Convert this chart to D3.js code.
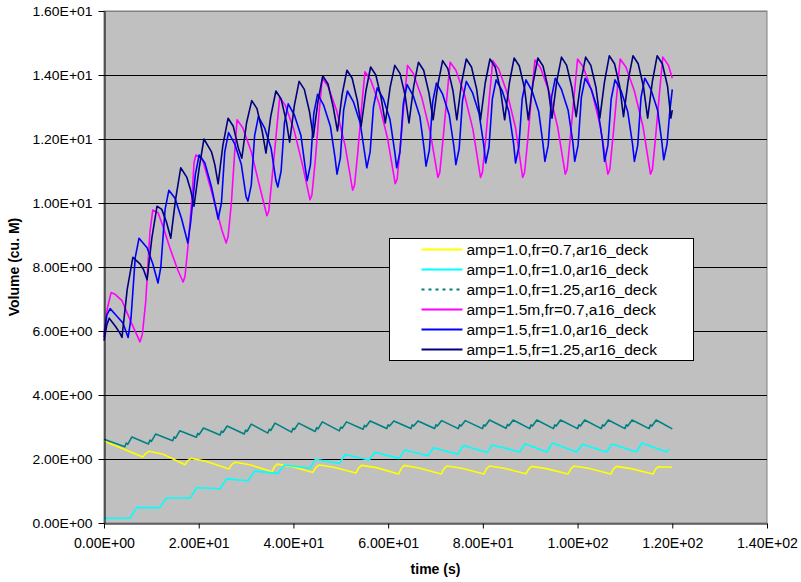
<!DOCTYPE html>
<html>
<head>
<meta charset="utf-8">
<script src="https://cdn.jsdelivr.net/npm/d3@7/dist/d3.min.js"></script>
<style>
  body { margin: 0; background: #fff; }
  text { font-family: "Liberation Sans", Arial, sans-serif; }
</style>
</head>
<body>
<div id="chart"></div>
<script>
// chart size
var width = 801;
var height = 582;

// axis ticks
var xTicks = [0, 20, 40, 60, 80, 100, 120, 140];
var yTicks = [0, 2, 4, 6, 8, 10, 12, 14, 16];

// legend entries
var seriesNames = [
  "amp=1.0,fr=0.7,ar16_deck",
  "amp=1.0,fr=1.0,ar16_deck",
  "amp=1.0,fr=1.25,ar16_deck",
  "amp=1.5m,fr=0.7,a16_deck",
  "amp=1.5,fr=1.0,ar16_deck",
  "amp=1.5,fr=1.25,ar16_deck"
];
var seriesColors = ["#ffff00", "#00ffff", "#008080", "#ff00ff", "#0000ff", "#000080"];

// [time, volume]
var yellowPts = [
  [0, 2.56], [8.2, 2.06], [8.8, 2.17], [9.5, 2.24], [12.5, 2.15], [17.1, 1.82],
  [17.7, 1.95], [18.4, 2.02], [21.5, 1.93], [26.4, 1.69],
  [27.0, 1.83], [27.7, 1.9], [30.8, 1.82], [35.5, 1.6],
  [36.0, 1.76], [36.6, 1.84], [39.6, 1.77], [44.1, 1.58],
  [44.7, 1.73], [45.4, 1.81], [48.5, 1.74], [53.2, 1.56],
  [53.8, 1.72], [54.4, 1.8], [57.5, 1.73], [62.2, 1.53],
  [62.8, 1.71], [63.4, 1.8], [66.5, 1.72], [71.2, 1.53],
  [71.8, 1.7], [72.4, 1.78], [75.5, 1.71], [80.2, 1.53],
  [80.8, 1.7], [81.4, 1.78], [84.5, 1.71], [89.1, 1.54],
  [89.7, 1.69], [90.3, 1.77], [93.4, 1.7], [98.0, 1.53],
  [98.6, 1.7], [99.2, 1.78], [102.3, 1.71], [107.0, 1.53],
  [107.6, 1.69], [108.2, 1.77], [111.3, 1.7], [115.9, 1.53],
  [116.5, 1.69], [117.1, 1.76], [120.0, 1.74]
];

var cyanPts = [
  [0, 0.06], [0.4, 0.15], [5.5, 0.15], [6.9, 0.48], [11.8, 0.48], [13.2, 0.78],
  [18.2, 0.78], [19.5, 1.1], [24.5, 1.07], [25.9, 1.38], [30.4, 1.32], [31.8, 1.62],
  [36.7, 1.55], [38.1, 1.81], [43.5, 1.71], [44.6, 1.99], [49.7, 1.86], [50.9, 2.14],
  [56.0, 1.97], [57.2, 2.21], [62.3, 2.02], [63.5, 2.28], [68.4, 2.1], [69.6, 2.35],
  [74.7, 2.15], [75.9, 2.42], [80.9, 2.2], [82.0, 2.44], [87.8, 2.22], [88.9, 2.48],
  [93.5, 2.22], [94.7, 2.5], [99.8, 2.22], [101.0, 2.46], [106.1, 2.22], [107.3, 2.47],
  [112.4, 2.22], [113.6, 2.5], [118.8, 2.22], [119.3, 2.31]
];

var tealPts = [
  [0, 2.62], [4.4, 2.38], [4.7, 2.5], [5.0, 2.46], [5.9, 2.69],
  [9.4, 2.47], [9.7, 2.59], [10.0, 2.55], [10.9, 2.78],
  [14.5, 2.57], [14.8, 2.69], [15.1, 2.65], [16.0, 2.88],
  [19.5, 2.68], [19.8, 2.8], [20.1, 2.76], [21.0, 2.97],
  [24.5, 2.75], [24.8, 2.87], [25.1, 2.83], [26.0, 3.03],
  [29.6, 2.78], [29.9, 2.9], [30.2, 2.86], [31.1, 3.09],
  [34.6, 2.81], [34.9, 2.93], [35.2, 2.89], [36.1, 3.12],
  [39.6, 2.84], [39.9, 2.96], [40.2, 2.92], [41.1, 3.12],
  [44.6, 2.86], [44.9, 2.98], [45.2, 2.94], [46.1, 3.16],
  [49.7, 2.88], [50.0, 3.0], [50.3, 2.96], [51.2, 3.16],
  [54.7, 2.93], [55.0, 3.05], [55.3, 3.01], [56.2, 3.19],
  [59.7, 2.95], [60.0, 3.07], [60.3, 3.03], [61.2, 3.19],
  [64.8, 2.95], [65.1, 3.07], [65.4, 3.03], [66.3, 3.19],
  [69.8, 2.95], [70.1, 3.07], [70.4, 3.03], [71.3, 3.2],
  [74.8, 2.95], [75.1, 3.07], [75.4, 3.03], [76.3, 3.2],
  [79.9, 2.95], [80.2, 3.07], [80.5, 3.03], [81.4, 3.22],
  [84.9, 2.96], [85.2, 3.08], [85.5, 3.04], [86.4, 3.22],
  [89.9, 2.95], [90.2, 3.07], [90.5, 3.03], [91.4, 3.22],
  [94.9, 2.95], [95.2, 3.07], [95.5, 3.03], [96.4, 3.22],
  [100.0, 2.95], [100.3, 3.07], [100.6, 3.03], [101.5, 3.22],
  [105.0, 2.95], [105.3, 3.07], [105.6, 3.03], [106.5, 3.22],
  [110.0, 2.95], [110.3, 3.07], [110.6, 3.03], [111.5, 3.22],
  [115.1, 2.95], [115.4, 3.07], [115.7, 3.03], [116.6, 3.22],
  [120.0, 2.94]
];

var magentaPts = [
  [0, 5.9], [0.7, 6.7], [1.5, 7.2], [2.3, 7.15], [3.8, 6.95], [5.5, 6.35], [7.6, 5.66],
  [8.1, 5.9], [8.8, 6.9], [9.7, 9.1], [10.3, 9.78], [11.4, 9.7], [12.5, 9.25], [13.9, 8.6], [15.6, 7.9], [16.7, 7.53],
  [17.1, 7.7], [17.7, 8.6], [18.6, 10.2], [19.0, 11.25], [19.4, 11.5], [20.7, 11.4], [21.3, 11.1], [23.0, 10.2], [24.9, 9.15], [25.8, 8.75],
  [26.2, 8.95], [26.9, 10.0], [27.6, 11.6], [28.1, 12.6], [29.3, 12.35], [31.1, 11.6], [32.9, 10.5], [34.4, 9.6],
  [34.8, 9.75], [35.5, 10.8], [36.4, 12.2], [37.1, 13.3], [38.3, 13.05], [40.1, 12.3], [41.9, 11.2], [43.5, 10.1],
  [43.9, 10.25], [44.6, 11.3], [45.4, 12.8], [46.1, 13.9], [47.3, 13.65], [49.1, 12.9], [50.9, 11.8], [52.5, 10.4],
  [52.9, 10.55], [53.6, 11.6], [54.4, 13.0], [55.1, 14.1], [56.3, 13.85], [58.1, 13.1], [59.9, 12.0], [61.5, 10.6],
  [61.9, 10.75], [62.6, 11.8], [63.4, 13.2], [64.1, 14.3], [65.3, 14.05], [67.1, 13.3], [68.9, 12.2], [70.5, 10.8],
  [70.9, 10.95], [71.6, 12.0], [72.4, 13.3], [73.1, 14.4], [74.3, 14.15], [76.1, 13.4], [77.9, 12.3], [79.5, 10.8],
  [79.9, 10.95], [80.6, 12.0], [81.4, 13.35], [82.1, 14.45], [83.3, 14.2], [85.1, 13.45], [86.9, 12.35], [88.4, 10.8],
  [88.8, 10.95], [89.5, 12.0], [90.3, 13.4], [91.0, 14.47], [92.2, 14.22], [94.0, 13.47], [95.8, 12.37], [97.4, 10.9],
  [97.8, 11.05], [98.5, 12.1], [99.3, 13.4], [100.0, 14.5], [101.2, 14.25], [103.0, 13.5], [104.8, 12.4], [106.4, 10.9],
  [106.8, 11.05], [107.5, 12.1], [108.3, 13.4], [109.0, 14.5], [110.2, 14.25], [112.0, 13.5], [113.8, 12.4], [115.4, 10.9],
  [115.8, 11.05], [116.5, 12.1], [117.3, 13.45], [118.0, 14.56], [119.2, 14.3], [120.0, 13.9]
];

var bluePts = [
  [0, 5.8], [0.6, 6.5], [1.3, 6.7], [2.5, 6.5], [4.0, 6.25], [5.1, 5.8],
  [5.7, 6.4], [6.6, 8.3], [7.4, 8.9], [9.1, 8.6], [10.3, 8.1], [11.4, 7.5],
  [12.0, 8.0], [12.9, 9.8], [13.7, 10.4], [15.0, 10.15], [16.4, 9.5], [17.7, 8.75],
  [18.3, 9.4], [19.3, 10.9], [20.1, 11.5], [21.3, 11.25], [22.7, 10.5], [24.1, 9.5],
  [24.8, 10.0], [25.5, 11.6], [26.3, 12.2], [27.6, 11.85], [29.0, 11.2], [30.0, 10.2], [30.4, 10.06],
  [31.1, 10.56], [31.8, 12.1], [32.6, 12.7], [33.9, 12.35], [35.3, 11.7], [36.3, 10.7], [36.7, 10.5],
  [37.4, 11.0], [38.1, 12.5], [38.9, 13.1], [40.2, 12.75], [41.6, 12.1], [42.5, 11.1], [42.9, 10.7],
  [43.6, 11.2], [44.3, 12.8], [45.1, 13.4], [46.4, 13.05], [47.8, 12.4], [48.8, 11.4], [49.2, 10.9],
  [49.9, 11.4], [50.6, 12.9], [51.4, 13.5], [52.7, 13.15], [54.1, 12.5], [55.1, 11.5], [55.5, 11.1],
  [56.2, 11.6], [56.9, 13.0], [57.7, 13.6], [59.0, 13.25], [60.4, 12.6], [61.4, 11.6], [61.8, 11.1],
  [62.5, 11.6], [63.2, 13.1], [64.0, 13.7], [65.3, 13.35], [66.7, 12.7], [67.6, 11.7], [68.0, 11.15],
  [68.7, 11.65], [69.4, 13.15], [70.2, 13.75], [71.5, 13.4], [72.9, 12.75], [73.9, 11.75], [74.3, 11.2],
  [75.0, 11.7], [75.7, 13.2], [76.5, 13.8], [77.8, 13.45], [79.2, 12.8], [80.2, 11.8], [80.6, 11.25],
  [81.3, 11.75], [82.0, 13.25], [82.8, 13.85], [84.1, 13.5], [85.5, 12.85], [86.5, 11.85], [86.9, 11.25],
  [87.6, 11.75], [88.3, 13.25], [89.1, 13.85], [90.4, 13.5], [91.8, 12.85], [92.7, 11.85], [93.1, 11.3],
  [93.8, 11.8], [94.5, 13.3], [95.3, 13.9], [96.6, 13.55], [98.0, 12.9], [99.0, 11.9], [99.4, 11.3],
  [100.1, 11.8], [100.8, 13.3], [101.6, 13.9], [102.9, 13.55], [104.3, 12.9], [105.3, 11.9], [105.7, 11.3],
  [106.4, 11.8], [107.1, 13.25], [107.9, 13.85], [109.2, 13.5], [110.6, 12.85], [111.6, 11.85], [112.0, 11.3],
  [112.7, 11.8], [113.4, 13.3], [114.2, 13.9], [115.5, 13.55], [116.9, 12.9], [117.8, 11.9], [118.2, 11.35],
  [118.9, 11.85], [119.5, 12.9], [120.0, 13.55]
];

var navyPts = [
  [0, 5.7], [0.6, 6.2], [1.1, 6.4], [2.4, 6.15], [3.3, 5.95], [3.8, 5.8],
  [4.9, 7.3], [6.1, 8.3], [7.6, 8.1], [8.4, 7.9], [9.1, 7.6],
  [10.1, 8.9], [11.2, 9.9], [12.2, 9.8], [13.2, 9.4], [14.1, 8.9],
  [15.1, 10.1], [16.2, 11.1], [17.5, 10.8], [18.3, 10.4], [19.0, 9.9],
  [20.1, 11.1], [21.1, 12.0], [22.7, 11.6], [23.4, 11.2], [24.1, 10.6],
  [25.1, 11.8], [26.2, 12.65], [27.3, 12.4], [28.4, 11.7], [29.1, 11.4],
  [30.1, 12.5], [31.2, 13.2], [32.3, 12.95], [33.4, 12.25], [34.2, 11.56],
  [35.2, 12.7], [36.3, 13.5], [37.4, 13.25], [38.5, 12.55], [39.2, 11.9],
  [40.2, 13.05], [41.2, 13.8], [42.3, 13.55], [43.4, 12.85], [44.2, 12.06],
  [45.2, 13.2], [46.2, 13.97], [47.3, 13.72], [48.4, 13.0], [49.3, 12.25],
  [50.3, 13.4], [51.3, 14.15], [52.4, 13.9], [53.5, 13.2], [54.3, 12.4],
  [55.3, 13.5], [56.3, 14.25], [57.4, 14.0], [58.5, 13.3], [59.4, 12.5],
  [60.4, 13.6], [61.4, 14.3], [62.5, 14.05], [63.6, 13.35], [64.4, 12.5],
  [65.4, 13.65], [66.4, 14.4], [67.5, 14.15], [68.6, 13.45], [69.5, 12.6],
  [70.5, 13.7], [71.5, 14.45], [72.6, 14.2], [73.7, 13.5], [74.5, 12.6],
  [75.5, 13.75], [76.5, 14.5], [77.6, 14.25], [78.7, 13.55], [79.5, 12.6],
  [80.5, 13.75], [81.5, 14.5], [82.6, 14.25], [83.7, 13.55], [84.6, 12.6],
  [85.6, 13.75], [86.6, 14.53], [87.7, 14.28], [88.8, 13.58], [89.6, 12.6],
  [90.6, 13.75], [91.6, 14.53], [92.7, 14.28], [93.8, 13.58], [94.6, 12.65],
  [95.6, 13.8], [96.6, 14.56], [97.7, 14.3], [98.8, 13.6], [99.7, 12.7],
  [100.7, 13.8], [101.7, 14.56], [102.8, 14.3], [103.9, 13.6], [104.7, 12.65],
  [105.7, 13.8], [106.7, 14.6], [107.8, 14.35], [108.9, 13.65], [109.7, 12.7],
  [110.7, 13.85], [111.7, 14.6], [112.8, 14.35], [113.9, 13.65], [114.8, 12.65],
  [115.8, 13.8], [116.8, 14.6], [117.9, 14.35], [119.0, 13.65], [119.7, 12.65],
  [120.0, 12.9]
];

var allSeries = [yellowPts, cyanPts, tealPts, magentaPts, bluePts, navyPts];

// plot area
var plot = { left: 104, right: 767, top: 11, bottom: 523 };

var x = d3.scaleLinear().domain([0, 140]).range([plot.left, plot.right]);
var y = d3.scaleLinear().domain([0, 16]).range([plot.bottom, plot.top]);

// 1.60E+01 style labels
var fmtE = d => {
  var parts = d.toExponential(2).split("e");
  var e = +parts[1];
  return parts[0] + "E" + (e < 0 ? "-" : "+") + String(Math.abs(e)).padStart(2, "0");
};

var svg = d3.select("#chart")
  .append("svg")
  .attr("width", width)
  .attr("height", height);

// gray background
svg.append("rect")
  .attr("x", plot.left).attr("y", plot.top)
  .attr("width", plot.right - plot.left).attr("height", plot.bottom - plot.top)
  .attr("fill", "#c0c0c0")
  .attr("stroke", "#808080");

// horizontal gridlines
svg.selectAll("line.grid")
  .data(yTicks.slice(1))
  .enter()
  .append("line")
  .attr("class", "grid")
  .attr("x1", plot.left).attr("x2", plot.right)
  .attr("y1", d => Math.round(y(d)) + 0.5).attr("y2", d => Math.round(y(d)) + 0.5)
  .attr("stroke", d => d == 16 ? "#808080" : "#000")
  .attr("stroke-width", 1);

// series lines
var line = d3.line()
  .x(d => x(d[0]))
  .y(d => y(d[1]));

svg.selectAll("path.series")
  .data(allSeries)
  .enter()
  .append("path")
  .attr("class", "series")
  .attr("d", line)
  .attr("fill", "none")
  .attr("stroke", (d, i) => seriesColors[i])
  .attr("stroke-width", 1.6)
  .attr("stroke-linejoin", "round");

// y axis
var yAxis = svg.append("g")
  .attr("transform", "translate(" + (plot.left + 0.5) + ",0)")
  .call(d3.axisLeft(y).tickValues(yTicks).tickFormat(fmtE).tickSize(6).tickSizeOuter(0).tickPadding(6));
yAxis.select(".domain").attr("stroke", "#000");
yAxis.selectAll("text")
  .attr("font-size", 12.5)
  .attr("fill", "#000")
  .attr("textLength", 60)
  .attr("lengthAdjust", "spacingAndGlyphs");

// x axis
var xAxis = svg.append("g")
  .attr("transform", "translate(0," + (plot.bottom + 0.5) + ")")
  .call(d3.axisBottom(x).tickValues(xTicks).tickFormat(fmtE).tickSize(5).tickSizeOuter(0).tickPadding(9));
xAxis.select(".domain").attr("stroke", "#000");
xAxis.selectAll("text")
  .attr("font-size", 14.5)
  .attr("fill", "#000")
  .attr("textLength", 61)
  .attr("lengthAdjust", "spacingAndGlyphs");

// axis titles
svg.append("text")
  .attr("transform", "translate(19," + ((plot.top + plot.bottom) / 2) + ") rotate(-90)")
  .attr("text-anchor", "middle")
  .attr("font-size", 14)
  .attr("font-weight", "bold")
  .text("Volume (cu. M)");

svg.append("text")
  .attr("x", (plot.left + plot.right) / 2)
  .attr("y", 574)
  .attr("text-anchor", "middle")
  .attr("font-size", 14)
  .attr("font-weight", "bold")
  .text("time (s)");

// legend
var legend = svg.append("g").attr("transform", "translate(389.5,238.5)");
legend.append("rect")
  .attr("width", 304).attr("height", 122)
  .attr("fill", "#fff").attr("stroke", "#000");

var rows = legend.selectAll("g.row")
  .data(seriesNames)
  .enter()
  .append("g")
  .attr("class", "row")
  .attr("transform", (d, i) => "translate(0," + (11 + i * 20) + ")");

rows.append("line")
  .attr("x1", 32).attr("x2", 73)
  .attr("stroke", (d, i) => seriesColors[i])
  .attr("stroke-width", 2)
  .attr("stroke-dasharray", (d, i) => i == 2 ? "3,4" : null);

rows.append("text")
  .attr("x", 77)
  .attr("y", 5.5)
  .attr("font-size", 15.5)
  .text(d => d);
</script>
</body>
</html>
